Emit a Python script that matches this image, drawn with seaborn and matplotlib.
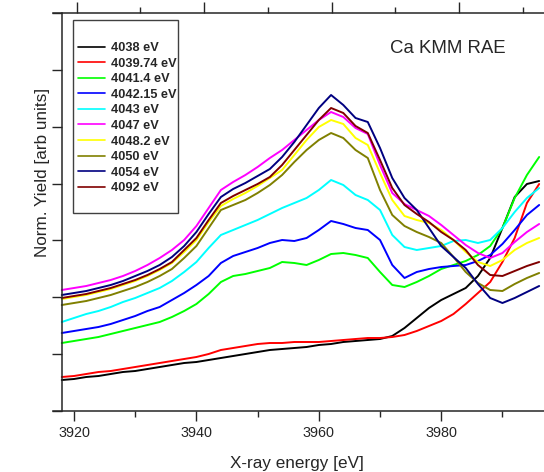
import numpy as np
import pandas as pd
import matplotlib
matplotlib.use("Agg")
import matplotlib.pyplot as plt
import seaborn as sns
from matplotlib.patches import Rectangle
from matplotlib.ticker import MultipleLocator, FixedLocator, NullFormatter

# x grid of the spectra (eV), one point every 2 eV
energy = np.arange(3918, 3997, 2)

# normalized yield (arb. units), one list per excitation energy
y_4038 = [31, 32, 34, 35, 37, 39, 40, 42, 44, 46, 48, 49, 51, 53, 55, 57, 59, 61, 62, 63,
          64, 66, 67, 69, 70, 71, 72, 75, 83, 93, 103, 111, 117, 123, 135, 153, 183, 214, 227, 230]
y_4039_74 = [34, 35, 37, 39, 40, 42, 44, 46, 48, 50, 52, 54, 57, 61, 63, 65, 67, 68, 68, 69,
             69, 69, 70, 71, 72, 73, 73, 74, 76, 80, 85, 90, 97, 107, 118, 129, 149, 173, 208, 227]
y_4041_4 = [68, 70, 72, 74, 77, 80, 83, 86, 89, 94, 100, 107, 117, 129, 135, 137, 140, 143, 149, 148,
            146, 151, 157, 158, 156, 153, 139, 126, 124, 129, 135, 142, 146, 150, 156, 165, 183, 213, 236, 254]
y_4042_15 = [78, 80, 82, 84, 87, 91, 95, 100, 104, 111, 118, 126, 135, 148, 155, 159, 163, 168, 171, 170,
             173, 181, 190, 187, 183, 181, 171, 146, 133, 139, 142, 144, 145, 146, 150, 156, 167, 181, 196, 206]
y_4043 = [89, 93, 97, 100, 104, 109, 113, 118, 123, 130, 139, 149, 163, 176, 181, 186, 191, 197, 203, 208,
          213, 221, 231, 226, 216, 211, 201, 176, 164, 161, 163, 165, 170, 171, 168, 171, 183, 199, 213, 223]
y_4047 = [121, 123, 125, 128, 131, 135, 140, 146, 153, 161, 171, 185, 203, 221, 229, 236, 244, 253, 261, 271,
          281, 291, 299, 294, 283, 277, 246, 218, 207, 201, 195, 186, 176, 166, 158, 153, 158, 169, 179, 187]
y_4048_2 = [112, 114, 116, 119, 122, 126, 130, 135, 141, 148, 159, 171, 189, 205, 212, 218, 225, 233, 241, 256,
            271, 284, 291, 287, 273, 266, 238, 211, 195, 191, 188, 181, 171, 159, 149, 145, 151, 161, 168, 173]
y_4050 = [106, 108, 110, 113, 116, 120, 124, 129, 135, 142, 153, 165, 183, 201, 206, 211, 218, 226, 236, 249,
          261, 271, 278, 273, 261, 253, 221, 196, 185, 179, 174, 168, 154, 139, 128, 121, 120, 127, 133, 138]
y_4054 = [116, 118, 120, 123, 126, 130, 135, 140, 146, 154, 165, 179, 197, 214, 222, 228, 235, 242, 254, 269,
          286, 303, 316, 306, 293, 289, 263, 233, 213, 201, 183, 165, 154, 143, 127, 113, 108, 113, 119, 125]
y_4092 = [113, 115, 117, 120, 123, 127, 131, 136, 142, 149, 161, 173, 191, 208, 215, 221, 227, 234, 246, 261,
          276, 291, 303, 298, 285, 278, 251, 223, 206, 197, 189, 179, 171, 161, 146, 136, 135, 140, 145, 149]

labels = ["4038 eV", "4039.74 eV", "4041.4 eV", "4042.15 eV", "4043 eV",
          "4047 eV", "4048.2 eV", "4050 eV", "4054 eV", "4092 eV"]
colors = ["#000000", "#ff0000", "#00ff00", "#0000ff", "#00ffff",
          "#ff00ff", "#ffff00", "#808000", "#000080", "#800000"]
series = [y_4038, y_4039_74, y_4041_4, y_4042_15, y_4043,
          y_4047, y_4048_2, y_4050, y_4054, y_4092]

df = pd.concat([pd.DataFrame({"energy": energy, "yield": s, "exc": lab})
                for s, lab in zip(series, labels)], ignore_index=True)

sns.set_style("ticks")
plt.rcParams["font.family"] = ["Liberation Sans", "DejaVu Sans"]

fig = plt.figure(figsize=(5.44, 4.72), dpi=100)
ax = fig.add_axes([53 / 544, 61 / 472, 498.4 / 544, 398 / 472])

sns.lineplot(data=df, x="energy", y="yield", hue="exc", hue_order=labels,
             palette=dict(zip(labels, colors)), estimator=None, sort=False,
             linewidth=1.4, ax=ax)

ax.set_xlim(3916.57, 3998)
ax.set_ylim(0, 398)
# y axis sits a bit inside the frame, like in the original
ax.spines["left"].set_position(("data", 3918.04))
ax.xaxis.set_major_locator(MultipleLocator(20))
ax.xaxis.set_minor_locator(MultipleLocator(10))
ax.yaxis.set_major_locator(FixedLocator(np.linspace(0, 398, 8)))
ax.yaxis.set_major_formatter(NullFormatter())
ax.tick_params(axis="x", which="major", direction="out", length=7, width=1, labelsize=10.4, pad=4)
ax.tick_params(axis="x", which="minor", direction="out", length=4, width=1)
ax.tick_params(axis="y", which="major", direction="out", length=7, width=1)
for sp in ax.spines.values():
    sp.set_linewidth(1.1)
ax.spines["right"].set_visible(False)

# top axis has its own tick spacing
top = ax.twiny()
top.set_xlim(-0.372, 7.452)
top.xaxis.set_major_locator(FixedLocator([0, 2, 4, 6]))
top.xaxis.set_minor_locator(FixedLocator([1, 3, 5, 7]))
top.xaxis.set_major_formatter(NullFormatter())
top.tick_params(axis="x", which="major", direction="out", length=8, width=1)
top.tick_params(axis="x", which="minor", direction="out", length=4, width=1)
for sp in top.spines.values():
    sp.set_visible(False)

ax.set_xlabel("X-ray energy [eV]", fontsize=12.3)
ax.xaxis.label.set_va("center")
ax.xaxis.set_label_coords(0.4896, -0.131)
ax.set_ylabel("Norm. Yield [arb units]", fontsize=12.3)
ax.yaxis.label.set_va("center")
ax.yaxis.set_label_coords(-0.022, 0.60)

ax.text(0.7925, 0.912, "Ca KMM RAE", transform=ax.transAxes, fontsize=13.4,
        ha="center", va="center")

# legend: drawn without frame, box added separately
handles, labs = ax.get_legend_handles_labels()
leg = ax.legend(handles, labs, loc="upper left", bbox_to_anchor=(0.0502, 0.927),
                borderaxespad=0, borderpad=0, frameon=False,
                prop={"weight": "bold", "size": 9.2},
                handlelength=2.1, handletextpad=0.47, labelspacing=0.28)
for h in leg.get_lines():
    h.set_linewidth(1.2)
ax.add_patch(Rectangle((0.0401, 0.4975), 0.2107, 0.4849, transform=ax.transAxes,
                       fill=False, edgecolor="#404040", linewidth=1.0, zorder=5))

fig.savefig("out.png", dpi=100)
